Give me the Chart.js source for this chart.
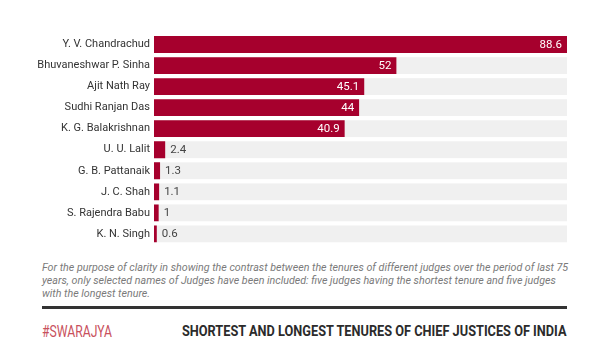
<!DOCTYPE html>
<html>
<head>
<meta charset="utf-8">
<script src="https://cdn.jsdelivr.net/npm/chart.js@4.4.0/dist/chart.umd.min.js"></script>
<style>
  body { margin: 0; background: #fff; font-family: Roboto, sans-serif; }
  #wrap { position: relative; width: 610px; height: 363px; overflow: hidden; }
  #chartBox { position: absolute; left: 0; top: 0; width: 610px; height: 255px; }
  #note { position: absolute; left: 42px; top: 261px; width: 528px; font-style: italic; font-size: 10.7px; line-height: 13px; color: #7a7a7a; }
  #rule { position: absolute; left: 42px; top: 306px; width: 525px; height: 3px; background: #333; }
  .cond { position: absolute; white-space: nowrap; line-height: 1; }
  #logo { left: 42px; top: 324px; font-size: 16px; color: #c8505c; transform-origin: left top; }
  #title { top: 324px; font-size: 15px; font-weight: 700; color: #2b2b2b; transform-origin: right top; }
</style>
</head>
<body>
<div id="wrap">
  <div id="chartBox"><canvas id="myChart"></canvas></div>
  <div id="note">For the purpose of clarity in showing the contrast between the tenures of different judges over the period of last 75 years, only selected names of Judges have been included: five judges having the shortest tenure and five judges with the longest tenure.</div>
  <div id="rule"></div>
  <div id="logo" class="cond">#SWARAJYA</div>
  <div id="title" class="cond">SHORTEST AND LONGEST TENURES OF CHIEF JUSTICES OF INDIA</div>
</div>
<script>
// judges and their tenure (months)
const judges = ["Y. V. Chandrachud", "Bhuvaneshwar P. Sinha", "Ajit Nath Ray", "Sudhi Ranjan Das", "K. G. Balakrishnan",
  "U. U. Lalit", "G. B. Pattanaik", "J. C. Shah", "S. Rajendra Babu", "K. N. Singh"];
const tenures = [88.6, 52, 45.1, 44, 40.9, 2.4, 1.3, 1.1, 1, 0.6];
const trackMax = 88.6;

const barColor = "#a6002d";
const trackColor = "#f0f0f0";

// squeeze the condensed header texts to their widths
function squeeze(el, targetW) {
  const w = el.scrollWidth;
  el.style.transform = "scaleX(" + (targetW / w) + ")";
}
squeeze(document.getElementById("logo"), 70);
const title = document.getElementById("title");
title.style.left = (567 - title.scrollWidth) + "px";
squeeze(title, 385);

//grey track behind every bar
const trackPlugin = {
  id: "track",
  beforeDatasetsDraw(chart) {
    const { ctx, chartArea } = chart;
    const meta = chart.getDatasetMeta(0);
    ctx.save();
    ctx.fillStyle = trackColor;
    meta.data.forEach((bar) => {
      ctx.fillRect(chartArea.left, bar.y - bar.height / 2, chartArea.right - chartArea.left, bar.height);
    });
    ctx.restore();
  },
};

//value labels
const valuePlugin = {
  id: "values",
  afterDatasetsDraw(chart) {
    const { ctx } = chart;
    const meta = chart.getDatasetMeta(0);
    ctx.save();
    ctx.font = "11.5px Roboto";
    ctx.textBaseline = "middle";
    meta.data.forEach((bar, i) => {
      const v = tenures[i];
      if (v > 10) {
        ctx.fillStyle = "#ffffff";
        ctx.textAlign = "right";
        ctx.fillText(v, bar.x - 5, bar.y + 0.5);
      } else {
        ctx.fillStyle = "#444444";
        ctx.textAlign = "left";
        ctx.fillText(v, bar.x + 5, bar.y + 0.5);
      }
    });
    ctx.restore();
  },
};

const config = {
  type: "bar",
  data: {
    labels: judges,
    datasets: [
      {
        data: tenures,
        backgroundColor: barColor,
        categoryPercentage: 1,
        barPercentage: 0.8,
      },
    ],
  },
  options: {
    indexAxis: "y",
    responsive: true,
    maintainAspectRatio: false,
    animation: false,
    layout: { padding: { top: 34, bottom: 8, right: 43, left: 0 } },
    scales: {
      x: { display: false, min: 0, max: trackMax },
      y: {
        grid: { display: false, drawTicks: false },
        border: { display: false },
        afterFit(scale) { scale.width = 154; },
        ticks: { color: "#333333", padding: 4, font: { family: "Roboto", size: 11 } },
      },
    },
    plugins: {
      legend: { display: false },
      tooltip: { enabled: false },
    },
  },
  plugins: [trackPlugin, valuePlugin],
};

var myChart = new Chart(document.getElementById("myChart"), config);
</script>
</body>
</html>
